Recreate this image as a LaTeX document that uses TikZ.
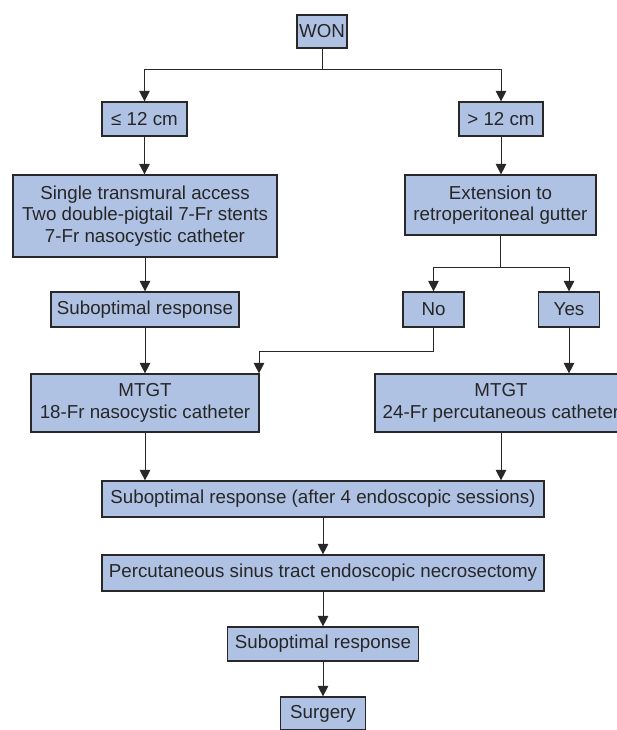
\documentclass[tikz,border=0pt]{standalone}
\usepackage{fontspec}
\setmainfont{Liberation Sans}
\usetikzlibrary{arrows.meta}
\definecolor{boxblue}{RGB}{176,194,228}
\definecolor{linegray}{RGB}{40,40,40}

\begin{document}
\begin{tikzpicture}[x=0.03cm, y=-0.03cm,
    box/.style={draw=linegray, line width=1pt, fill=boxblue, align=center, inner sep=0pt,
      font=\fontsize{16}{18.5}\selectfont, text=black!85},
    arr/.style={draw=linegray, line width=0.8pt, -{Triangle[width=9pt, length=9pt]}}]
    \useasboundingbox (0, 0) rectangle (616, 730);

    % 箱
    \node[box, minimum width=1.5cm, minimum height=0.99cm] (WON) at (322, 31.5) {WON};
    \node[box, minimum width=2.55cm, minimum height=1.02cm] (LE) at (144.5, 119) {≤ 12 cm};
    \node[box, minimum width=2.52cm, minimum height=1.02cm] (GT) at (501, 119) {> 12 cm};
    \node[box, minimum width=7.92cm, minimum height=2.46cm] (SINGLE) at (145, 216)
      {Single transmural access\\Two double-pigtail 7-Fr stents\\7-Fr nasocystic catheter};
    \node[box, minimum width=5.73cm, minimum height=1.8cm] (EXT) at (500.5, 205)
      {Extension to\\retroperitoneal gutter};
    \node[box, minimum width=5.64cm, minimum height=1.05cm] (SUB1) at (145, 309.5) {Suboptimal response};
    \node[box, minimum width=1.83cm, minimum height=1.05cm] (NO) at (433.5, 309.5) {No};
    \node[box, minimum width=1.83cm, minimum height=1.05cm] (YES) at (569, 309.5) {Yes};
    \node[box, minimum width=6.84cm, minimum height=1.74cm] (MTGT1) at (145, 403)
      {MTGT\\18-Fr nasocystic catheter};
    \node[box, minimum width=7.56cm, minimum height=1.74cm] (MTGT2) at (501, 403)
      {MTGT\\24-Fr percutaneous catheter};
    \node[box, minimum width=13.26cm, minimum height=1.08cm] (SUB2) at (323, 499)
      {Suboptimal response (after 4 endoscopic sessions)};
    \node[box, minimum width=13.26cm, minimum height=1.08cm] (PSTEN) at (323, 573)
      {Percutaneous sinus tract endoscopic necrosectomy};
    \node[box, minimum width=5.73cm, minimum height=1.02cm] (SUB3) at (323, 644) {Suboptimal response};
    \node[box, minimum width=2.55cm, minimum height=0.99cm] (SURG) at (323, 713.5) {Surgery};

    \coordinate (J1) at (322, 69);
    \coordinate (J2) at (500.5, 267);

    % 矢印
    \draw[arr, -] (WON) -- (J1);
    \draw[arr] (J1) -| (LE);
    \draw[arr] (J1) -| (GT);
    \draw[arr] (LE) -- (LE |- SINGLE.north);
    \draw[arr] (SINGLE) -- (SUB1);
    \draw[arr] (SUB1) -- (MTGT1);
    \draw[arr] (GT) -- (GT |- EXT.north);
    \draw[arr, -] (EXT) -- (J2);
    \draw[arr] (J2) -| (NO);
    \draw[arr] (J2) -| (YES);
    \draw[arr] (NO.south) -- ++(0, 24) -| ([xshift=-0.5pt]MTGT1.north east);
    \draw[arr] (YES.south) -- (YES.south |- MTGT2.north);
    \draw[arr] (MTGT1) -- (MTGT1 |- SUB2.north);
    \draw[arr] (MTGT2) -- (MTGT2 |- SUB2.north);
    \draw[arr] (SUB2) -- (PSTEN);
    \draw[arr] (PSTEN) -- (SUB3);
    \draw[arr] (SUB3) -- (SURG);

\end{tikzpicture}
\end{document}
